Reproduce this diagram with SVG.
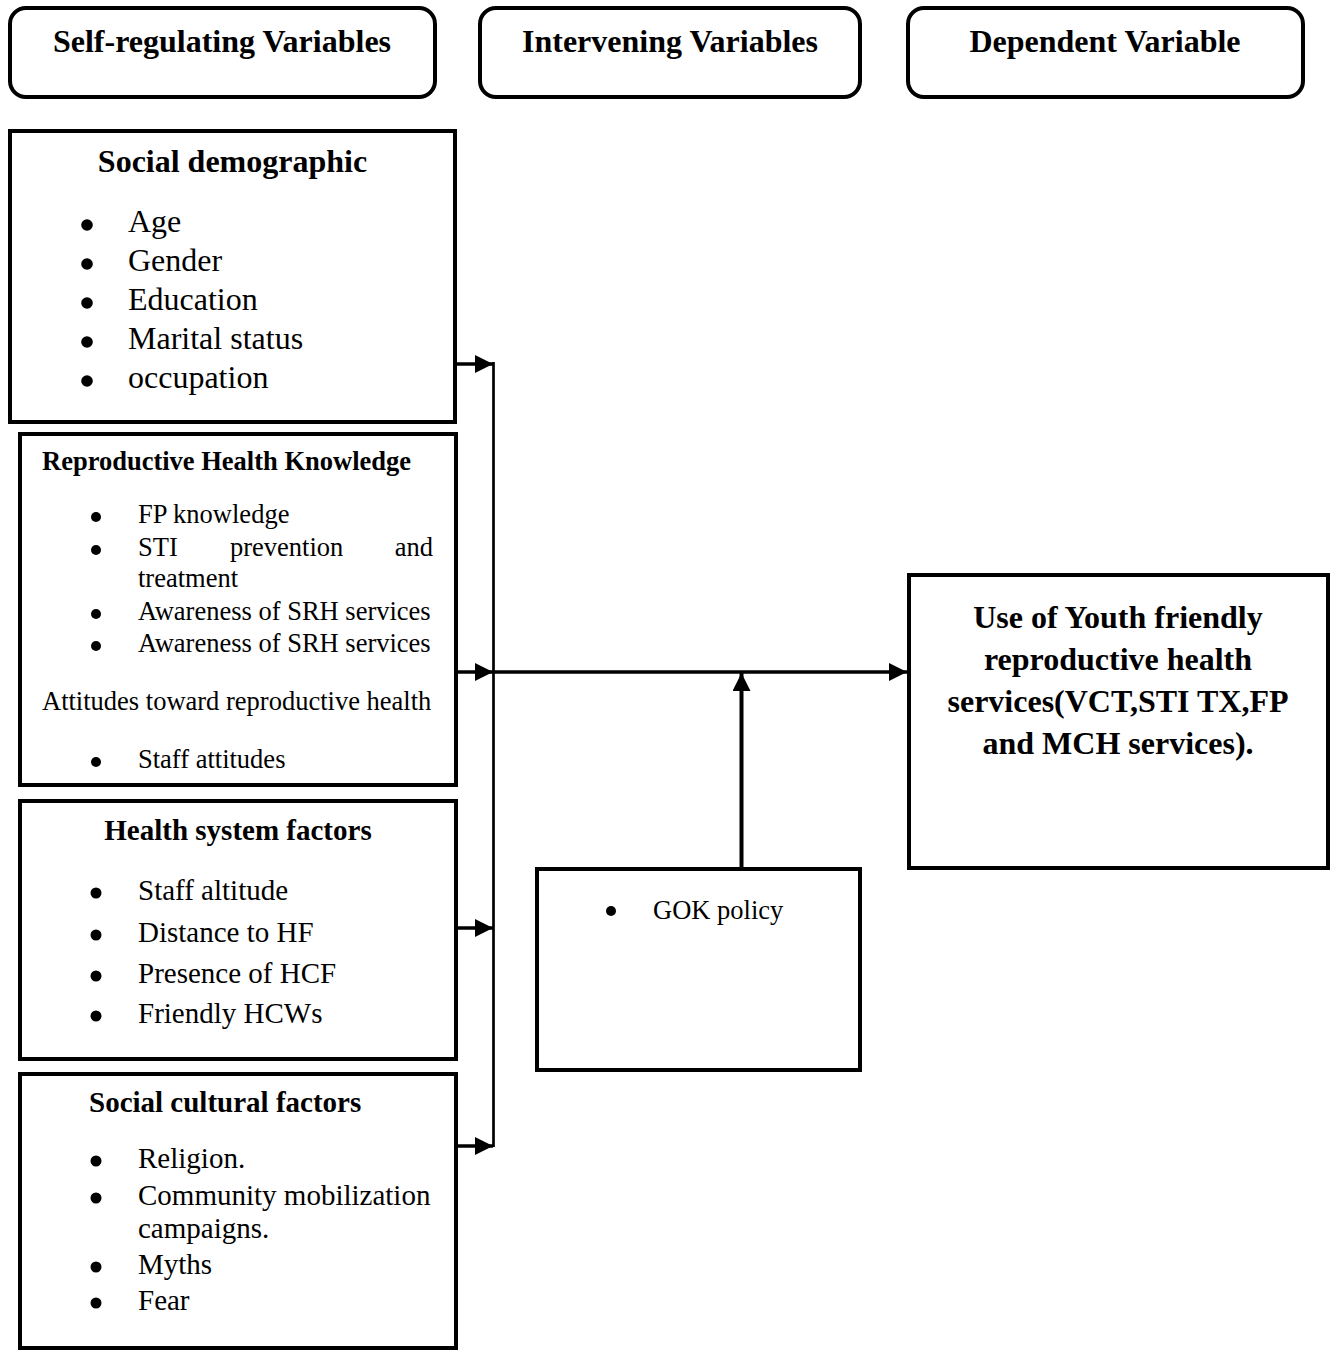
<svg xmlns="http://www.w3.org/2000/svg" width="1335" height="1351" viewBox="0 0 1335 1351">
<style>
.box{fill:#fff;stroke:#000;stroke-width:4}
.hdr{fill:#fff;stroke:#000;stroke-width:4}
text{font-family:"Liberation Serif","Times New Roman",serif;fill:#000}
.h{font-size:32px;font-weight:bold;text-anchor:middle}
.t32{font-size:32px;font-weight:bold}
.t29b{font-size:29px;font-weight:bold}
.t26b{font-size:26.5px;font-weight:bold}
.i32{font-size:32px}
.i29{font-size:29px}
.i26{font-size:26.5px}
.dep{font-size:32px;font-weight:bold;text-anchor:middle}
.line{stroke:#000;fill:none}
</style>
<defs>
<marker id="ah" markerUnits="userSpaceOnUse" markerWidth="18" markerHeight="18" viewBox="0 0 16 16" refX="16" refY="8" orient="auto">
<path d="M0,0 L16,8 L0,16 Z" fill="#000"/>
</marker>
</defs>
<rect width="1335" height="1351" fill="#fff"/>

<g id="hdr-self">
<rect class="hdr" x="10" y="8" width="425" height="89" rx="16"/>
<text class="h" x="222" y="52">Self-regulating Variables</text>
</g>
<g id="hdr-intervening">
<rect class="hdr" x="480" y="8" width="380" height="89" rx="16"/>
<text class="h" x="670" y="52">Intervening Variables</text>
</g>
<g id="hdr-dependent">
<rect class="hdr" x="908" y="8" width="395" height="89" rx="16"/>
<text class="h" x="1105" y="52">Dependent Variable</text>
</g>

<g id="social-demographic">
<rect class="box" x="10" y="131" width="445" height="291"/>
<text class="t32" x="232.5" y="172" text-anchor="middle">Social demographic</text>
<circle cx="87" cy="225" r="5.8"/><text class="i32" x="128" y="232">Age</text>
<circle cx="87" cy="264" r="5.8"/><text class="i32" x="128" y="271">Gender</text>
<circle cx="87" cy="303" r="5.8"/><text class="i32" x="128" y="310">Education</text>
<circle cx="87" cy="342" r="5.8"/><text class="i32" x="128" y="349">Marital status</text>
<circle cx="87" cy="381" r="5.8"/><text class="i32" x="128" y="388">occupation</text>
</g>

<g id="rh-knowledge">
<rect class="box" x="20" y="434" width="436" height="351"/>
<text class="t26b" x="42" y="470">Reproductive Health Knowledge</text>
<circle cx="96" cy="517" r="5"/><text class="i26" x="138" y="523">FP knowledge</text>
<circle cx="96" cy="550" r="5"/><text class="i26" x="138" y="556">STI</text><text class="i26" x="230" y="556">prevention</text><text class="i26" x="433" y="556" text-anchor="end">and</text>
<text class="i26" x="138" y="587">treatment</text>
<circle cx="96" cy="614" r="5"/><text class="i26" x="138" y="620">Awareness of SRH services</text>
<circle cx="96" cy="646" r="5"/><text class="i26" x="138" y="652">Awareness of SRH services</text>
<text class="i26" x="42" y="710">Attitudes toward reproductive health</text>
<circle cx="96" cy="762" r="5"/><text class="i26" x="138" y="768">Staff attitudes</text>
</g>

<g id="health-system">
<rect class="box" x="20" y="801" width="436" height="258"/>
<text class="t29b" x="238" y="840" text-anchor="middle">Health system factors</text>
<circle cx="96" cy="893" r="5.5"/><text class="i29" x="138" y="900">Staff altitude</text>
<circle cx="96" cy="935" r="5.5"/><text class="i29" x="138" y="942">Distance to HF</text>
<circle cx="96" cy="976" r="5.5"/><text class="i29" x="138" y="983">Presence of HCF</text>
<circle cx="96" cy="1016" r="5.5"/><text class="i29" x="138" y="1023">Friendly HCWs</text>
</g>

<g id="social-cultural">
<rect class="box" x="20" y="1074" width="436" height="274"/>
<text class="t29b" x="89" y="1112">Social cultural factors</text>
<circle cx="96" cy="1161" r="5.5"/><text class="i29" x="138" y="1168">Religion.</text>
<circle cx="96" cy="1198" r="5.5"/><text class="i29" x="138" y="1205">Community mobilization</text>
<text class="i29" x="138" y="1238">campaigns.</text>
<circle cx="96" cy="1267" r="5.5"/><text class="i29" x="138" y="1274">Myths</text>
<circle cx="96" cy="1303" r="5.5"/><text class="i29" x="138" y="1310">Fear</text>
</g>

<g id="gok-policy">
<rect class="box" x="537" y="869" width="323" height="201"/>
<circle cx="611" cy="911" r="5"/><text class="i26" x="653" y="919">GOK policy</text>
</g>

<g id="dependent">
<rect class="box" x="909" y="575" width="419" height="293"/>
<text class="dep" x="1118" y="628">Use of Youth friendly</text>
<text class="dep" x="1118" y="670">reproductive health</text>
<text class="dep" x="1118" y="712">services(VCT,STI TX,FP</text>
<text class="dep" x="1118" y="754">and MCH services).</text>
</g>

<g id="connectors">
<line class="line" x1="493.5" y1="362" x2="493.5" y2="1147" stroke-width="2.7"/>
<line class="line" x1="457" y1="364" x2="493" y2="364" stroke-width="3.3" marker-end="url(#ah)"/>
<line class="line" x1="457" y1="672" x2="493" y2="672" stroke-width="3.3" marker-end="url(#ah)"/>
<line class="line" x1="457" y1="928" x2="493" y2="928" stroke-width="3.3" marker-end="url(#ah)"/>
<line class="line" x1="457" y1="1146" x2="493" y2="1146" stroke-width="3.3" marker-end="url(#ah)"/>
<line class="line" x1="493" y1="672" x2="907" y2="672" stroke-width="3.3" marker-end="url(#ah)"/>
<line class="line" x1="741.5" y1="867" x2="741.5" y2="673" stroke-width="4" marker-end="url(#ah)"/>
</g>
</svg>
